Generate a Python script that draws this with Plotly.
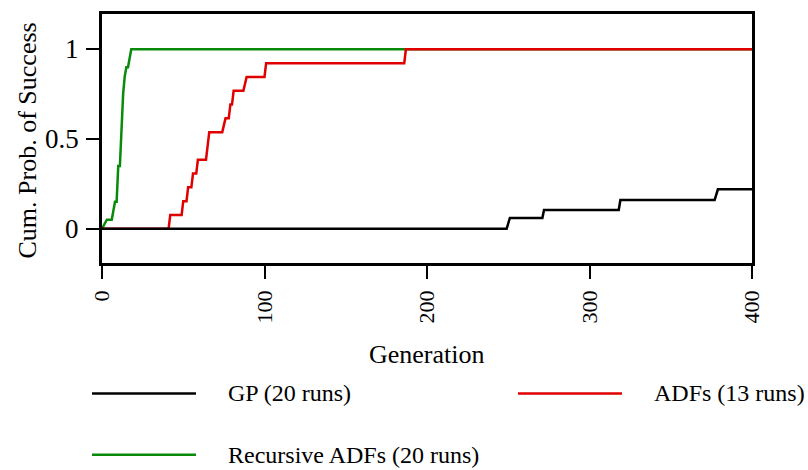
import plotly.graph_objects as go

# ---- data (generation, cumulative probability of success) ----
gp_gen = [0, 249, 251, 271, 272, 318, 319, 377, 379, 400]
gp_prob = [0, 0, 0.06, 0.06, 0.105, 0.105, 0.16, 0.16, 0.22, 0.22]

adf_gen = [0, 41, 42, 49, 50, 52, 53, 55, 56, 58, 59, 64, 65, 66, 74, 76, 78, 79, 80, 81, 87, 89, 100, 101, 186, 187, 400]
adf_runs = [0, 0, 1, 1, 2, 2, 3, 3, 4, 4, 5, 5, 6, 7, 7, 8, 8, 9, 9, 10, 10, 11, 11, 12, 12, 13, 13]
adf_total = 13

rec_gen = [0, 3, 6, 7, 8, 9, 10, 11, 12, 13, 14, 15, 16, 17, 18, 400]
rec_prob = [0, 0.05, 0.05, 0.10, 0.15, 0.15, 0.35, 0.35, 0.55, 0.75, 0.85, 0.9, 0.9, 0.95, 1.0, 1.0]

x_ticks = [0, 100, 200, 300, 400]
y_ticks = [0, 0.5, 1]
y_tick_text = ["0", "0.5", "1"]

series_names = ["GP (20 runs)", "ADFs (13 runs)", "Recursive ADFs (20 runs)"]
colors = ["#000000", "#e00000", "#0a8a0a"]

FONT = "Liberation Serif"

adf_prob = [r / adf_total for r in adf_runs]

fig = go.Figure()
fig.add_trace(go.Scatter(x=rec_gen, y=rec_prob, mode="lines", name=series_names[2],
                         line=dict(color=colors[2], width=2.5), showlegend=False))
fig.add_trace(go.Scatter(x=adf_gen, y=adf_prob, mode="lines", name=series_names[1],
                         line=dict(color=colors[1], width=2.5), showlegend=False))
fig.add_trace(go.Scatter(x=gp_gen, y=gp_prob, mode="lines", name=series_names[0],
                         line=dict(color=colors[0], width=2.5), showlegend=False))

W, H = 808, 470
L, R, T, B = 102, 56, 11, 207
pw, ph = W - L - R, H - T - B

def px(x):
    return (x - L) / pw

def py(y):
    return (H - B - y) / ph

fig.update_layout(
    width=W, height=H,
    margin=dict(l=L, r=R, t=T, b=B, pad=0),
    paper_bgcolor="white", plot_bgcolor="white",
    font=dict(family=FONT, size=22, color="black"),
    xaxis=dict(range=[0, 400], tickvals=x_ticks, ticktext=[str(v) for v in x_ticks],
               tickangle=-90, ticks="outside", ticklen=13, tickwidth=2, tickcolor="black",
               showline=True, linewidth=2.5, linecolor="black", mirror=True,
               showgrid=False, zeroline=False, ticklabelstandoff=3,
               tickfont=dict(family=FONT, size=22)),
    yaxis=dict(range=[-0.191, 1.197], tickvals=y_ticks, showticklabels=False,
               ticks="outside", ticklen=13, tickwidth=2, tickcolor="black",
               showline=True, linewidth=2.5, linecolor="black", mirror=True,
               showgrid=False, zeroline=False),
)

annotations = [
    dict(text="Generation", x=px(427), y=py(356), xref="paper", yref="paper",
         xanchor="center", yanchor="middle", showarrow=False, font=dict(size=26)),
    dict(text="Cum. Prob. of Success", x=px(27), y=py(139), xref="paper", yref="paper",
         xanchor="center", yanchor="middle", textangle=-90, showarrow=False, font=dict(size=26)),
]
# y-axis tick labels placed at the axis' own tick values
for v, t in zip(y_ticks, y_tick_text):
    annotations.append(dict(text=t, x=px(81), y=v, xref="paper", yref="y",
                            xanchor="right", yanchor="middle", showarrow=False,
                            font=dict(size=27)))
shapes = []
legend_pos = [(92, 196, 226, 395), (518, 622, 652, 395), (92, 196, 226, 457)]
for (x0, x1, xt, yy), name, col in zip(legend_pos, series_names, colors):
    shapes.append(dict(type="line", xref="paper", yref="paper", x0=px(x0), x1=px(x1),
                       y0=py(yy), y1=py(yy), line=dict(color=col, width=2.5)))
    annotations.append(dict(text=name, x=px(xt), y=py(yy), xref="paper", yref="paper",
                            xanchor="left", yanchor="middle", showarrow=False,
                            font=dict(size=24)))
fig.update_layout(annotations=annotations, shapes=shapes)

fig.write_html("out.html")
